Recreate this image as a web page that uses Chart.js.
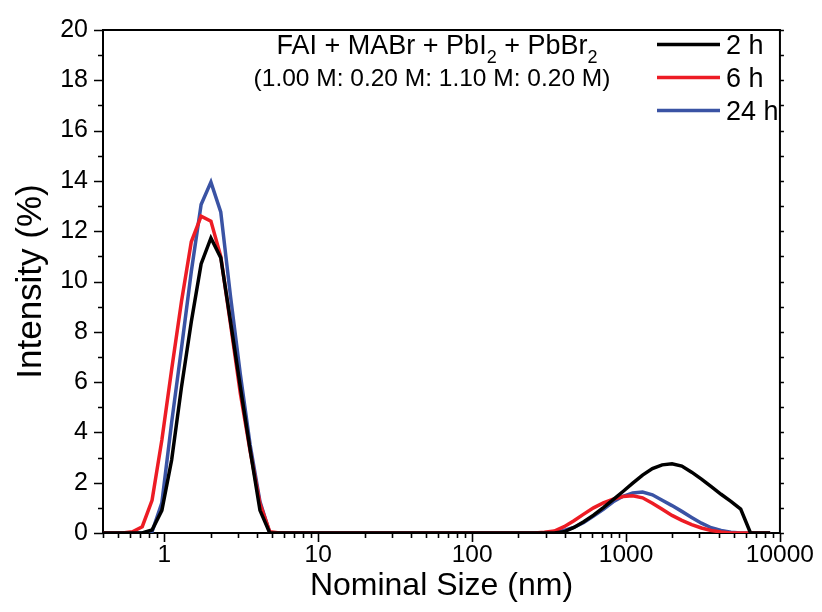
<!DOCTYPE html>
<html><head><meta charset="utf-8">
<script src="https://cdn.jsdelivr.net/npm/chart.js@4"></script>
<style>html,body{margin:0;padding:0;background:#fff}#wrap{width:822px;height:612px;position:relative}</style>
</head><body><div id="wrap"><canvas id="c"></canvas></div>
<script>
// Nominal size bins (nm)
const sizes = [0.4,0.4632,0.5365,0.6213,0.7195,0.8332,0.9649,1.117,1.294,1.499,1.736,2.010,2.328,2.696,3.122,3.615,4.187,4.849,5.615,6.503,7.531,8.721,10.10,11.70,13.54,15.69,18.17,21.04,24.36,28.21,32.67,37.84,43.82,50.75,58.77,68.06,78.82,91.28,105.7,122.4,141.8,164.2,190.1,220.2,255.0,295.3,342.0,396.1,458.7,531.2,615.1,712.4,825.0,955.4,1106,1281,1484,1718,1990,2305,2669,3091,3580,4145,4801,5560,6439,7456,8635];
// Intensity (%)
const intensity2h = [0,0,0,0,0,0.12,0.9,2.9,5.8,8.4,10.7,11.73,10.95,8.4,5.8,3.3,0.9,0,0,0,0,0,0,0,0,0,0,0,0,0,0,0,0,0,0,0,0,0,0,0,0,0,0,0,0,0,0,0.05,0.22,0.45,0.71,1.01,1.33,1.65,1.98,2.3,2.56,2.71,2.75,2.66,2.42,2.14,1.84,1.54,1.26,0.95,0,0,0];
const intensity6h = [0,0,0,0.05,0.25,1.3,3.7,6.5,9.2,11.58,12.6,12.4,11.0,8.3,5.55,3.25,1.17,0.05,0,0,0,0,0,0,0,0,0,0,0,0,0,0,0,0,0,0,0,0,0,0,0,0,0,0,0,0.03,0.08,0.25,0.49,0.75,1.0,1.2,1.35,1.45,1.48,1.4,1.18,0.94,0.7,0.5,0.33,0.2,0.1,0.04,0,0,0,0,0];
const intensity24h = [0,0,0,0,0,0.05,1.2,4.4,7.35,10.4,13.06,13.95,12.77,9.4,6.3,3.5,1.25,0,0,0,0,0,0,0,0,0,0,0,0,0,0,0,0,0,0,0,0,0,0,0,0,0,0,0,0,0,0.02,0.1,0.22,0.42,0.67,0.94,1.24,1.46,1.59,1.63,1.52,1.3,1.09,0.86,0.62,0.39,0.21,0.1,0.03,0,0,0,0];
const seriesLabels = ['2 h','6 h','24 h'];
const seriesColors = ['#000000','#ed1c24','#3a53a4'];
const xTickValues = [1,10,100,1000,10000];
const xMin = 0.4, xMax = 10000;
const yMin = 0, yMax = 20, yStep = 2;
const xTitle = 'Nominal Size (nm)';
const yTitle = 'Intensity (%)';
const annotLine1 = [['FAI + MABr + PbI',false],['2',true],[' + PbBr',false],['2',true]];
const annotLine2 = '(1.00 M: 0.20 M: 1.10 M: 0.20 M)';

const FONT = '"Liberation Sans", Arial, sans-serif';

function toPoints(arr){ return sizes.map((s,i)=>({x:s,y:arr[i]})); }
const allSeries = [intensity2h, intensity6h, intensity24h];

const framePlugin = {
  id:'frame',
  beforeDatasetsDraw(chart){
    const ctx = chart.ctx, a = chart.chartArea;
    const xs = chart.scales.x, ys = chart.scales.y;
    ctx.save();
    ctx.strokeStyle = '#000';
    ctx.lineWidth = 2;
    ctx.strokeRect(a.left, a.top, a.right - a.left, a.bottom - a.top);
    ctx.lineWidth = 1.6;
    ctx.beginPath();
    for (let d = -1; d <= 4; d++) {
      for (let k = 1; k <= 9; k++) {
        const v = k * Math.pow(10, d);
        if (v < xMin - 1e-9 || v > xMax + 1e-9) continue;
        const px = Math.round(xs.getPixelForValue(v)) + 0.5;
        const len = (k === 1) ? 9 : 5;
        ctx.moveTo(px, a.bottom); ctx.lineTo(px, a.bottom + len);
      }
    }
    for (let v = yMin; v <= yMax; v += 1) {
      const py = Math.round(ys.getPixelForValue(v)) + 0.5;
      const len = (v % yStep === 0) ? 9 : 5;
      ctx.moveTo(a.left, py); ctx.lineTo(a.left - len, py);
      ctx.moveTo(a.right, py); ctx.lineTo(a.right + 4, py);
    }
    ctx.stroke();
    ctx.restore();
  },
  afterDraw(chart){
    const ctx = chart.ctx;
    ctx.save();
    ctx.fillStyle = '#000';
    ctx.textBaseline = 'alphabetic';
    const big = '27px ' + FONT, small = '18px ' + FONT;
    let total = 0;
    for (const [t, sub] of annotLine1) { ctx.font = sub ? small : big; total += ctx.measureText(t).width; }
    let x = 437 - total / 2;
    for (const [t, sub] of annotLine1) {
      ctx.font = sub ? small : big;
      ctx.fillText(t, x, sub ? 63 : 54);
      x += ctx.measureText(t).width;
    }
    ctx.font = '24.5px ' + FONT;
    ctx.textAlign = 'center';
    ctx.fillText(annotLine2, 432, 86);
    ctx.textAlign = 'left';
    ctx.font = '27px ' + FONT;
    const rows = [44.5, 77.5, 110.5];
    seriesLabels.forEach((lab, i) => {
      ctx.strokeStyle = seriesColors[i];
      ctx.lineWidth = 3.3;
      ctx.beginPath(); ctx.moveTo(657, rows[i]); ctx.lineTo(720, rows[i]); ctx.stroke();
      ctx.fillText(lab, 726, rows[i] + 9.7);
    });
    ctx.restore();
  }
};

new Chart(document.getElementById('c'), {
  type: 'line',
  data: {
    datasets: allSeries.map((arr, i) => ({
      label: seriesLabels[i],
      data: toPoints(arr),
      borderColor: seriesColors[i],
      backgroundColor: seriesColors[i],
      borderWidth: 3.5,
      pointRadius: 0,
      tension: 0,
      fill: false
    }))
  },
  options: {
    responsive: true,
    maintainAspectRatio: false,
    animation: false,
    devicePixelRatio: 1,
    layout: { padding: { top: 28, right: 37, left: 0, bottom: 0 } },
    plugins: { legend: { display: false }, tooltip: { enabled: false }, title: { display: false } },
    scales: {
      x: {
        type: 'logarithmic', min: xMin, max: xMax,
        grid: { display: false, drawTicks: false },
        border: { display: false },
        afterBuildTicks: (s) => { s.ticks = xTickValues.map(v => ({ value: v, major: true })); },
        afterFit: (s) => { s.height = 79; },
        ticks: {
          autoSkip: false, maxRotation: 0, padding: 8,
          color: '#000', font: { family: FONT, size: 24.5 },
          callback: (v) => String(v)
        },
        title: { display: true, text: xTitle, color: '#000', font: { family: FONT, size: 32 }, padding: { bottom: 7, top: 0 } }
      },
      y: {
        min: yMin, max: yMax,
        grid: { display: false, drawTicks: false },
        border: { display: false },
        afterFit: (s) => { s.width = 103; },
        ticks: {
          stepSize: yStep, padding: 15,
          color: '#000', font: { family: FONT, size: 25 }
        },
        title: { display: true, text: yTitle, color: '#000', font: { family: FONT, size: 35 }, padding: { top: 10, bottom: 0 } }
      }
    }
  },
  plugins: [framePlugin]
});
</script></body></html>
